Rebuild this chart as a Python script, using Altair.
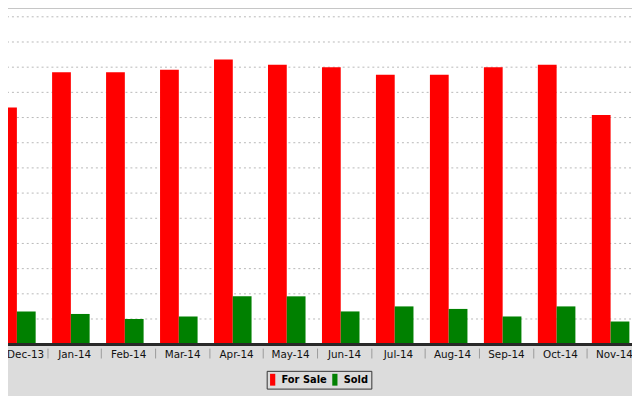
import altair as alt
import pandas as pd

months = ["Dec-13", "Jan-14", "Feb-14", "Mar-14", "Apr-14", "May-14",
          "Jun-14", "Jul-14", "Aug-14", "Sep-14", "Oct-14", "Nov-14"]
series_names = ["For Sale", "Sold"]
for_sale = [94, 108, 108, 109, 113, 111, 110, 107, 107, 110, 111, 91]
sold = [13, 12, 10, 11, 19, 19, 13, 15, 14, 11, 15, 9]
grid_values = [10, 20, 30, 40, 50, 60, 70, 80, 90, 100, 110, 120, 130]
colors = ["#ff0000", "#008000"]

rows = []
for m, a, b in zip(months, for_sale, sold):
    rows.append({"month": m, "series": series_names[0], "value": a})
    rows.append({"month": m, "series": series_names[1], "value": b})
df = pd.DataFrame(rows)
grid_df = pd.DataFrame({"value": grid_values})

y_scale = alt.Scale(domain=[0, 133.7], nice=False, zero=True)

grid = alt.Chart(grid_df).mark_rule(
    color="#b8b8b8", strokeWidth=1, strokeDash=[2, 3]
).encode(
    y=alt.Y("value:Q", scale=y_scale, axis=None)
)

bars = alt.Chart(df).mark_bar().encode(
    x=alt.X(
        "month:N",
        sort=months,
        scale=alt.Scale(domain=months, paddingInner=0, paddingOuter=0),
        axis=alt.Axis(
            title=None, labelAngle=0, domain=False, ticks=True,
            tickBand="extent", tickSize=10, tickColor="#9a9a9a", tickWidth=1,
            offset=4, labelPadding=-8, labelFont="DejaVu Sans",
            labelFontSize=10.5, labelColor="#111111", grid=False,
            labelOffset=alt.ExprRef("datum.value === 'Dec-13' ? 5 : 0"),
        ),
    ),
    xOffset=alt.XOffset(
        "series:N",
        sort=series_names,
        scale=alt.Scale(domain=series_names, paddingInner=0,
                        paddingOuter=0.438, align=0.3),
    ),
    y=alt.Y("value:Q", scale=y_scale, axis=None),
    color=alt.Color(
        "series:N",
        sort=series_names,
        scale=alt.Scale(domain=series_names, range=colors),
        legend=alt.Legend(
            title=None, orient="none", legendX=277, legendY=368,
            direction="horizontal",
            symbolType="M-0.93,-1H-0.05V1H-0.93Z", symbolSize=144,
            symbolStrokeWidth=0, labelFont="DejaVu Sans",
            labelFontWeight="bold", labelFontSize=10, labelColor="#000000",
            strokeColor="#333333", padding=3, columnPadding=5,
            labelOffset=0,
        ),
    ),
)

baseline = alt.Chart(df).mark_rule(color="#2a2a2a", strokeWidth=2).encode(
    y=alt.datum(0)
)

chart = alt.layer(grid, bars, baseline).properties(
    width=656,
    height=341,
    padding={"left": -15, "right": -9, "top": -3, "bottom": 50},
    autosize=alt.AutoSizeParams(type="none"),
).configure(
    background="#dcdcdc"
).configure_view(
    fill="white", stroke="#888888", strokeWidth=1
)

chart.save("out.html", embed_options={"renderer": "svg", "actions": False})
